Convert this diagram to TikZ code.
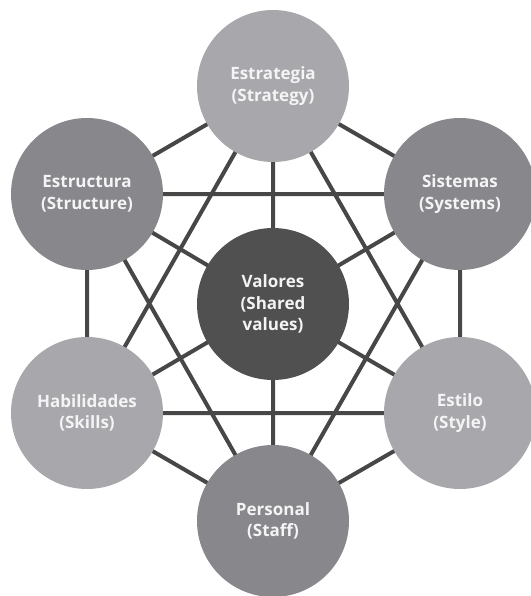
\documentclass[tikz,border=0pt]{standalone}
\usepackage{fontspec}
\setmainfont{Open Sans}
\newfontfamily\labelfont{Open Sans Bold}
\begin{document}
\begin{tikzpicture}[x=1pt,y=-1pt,
  link/.style={draw=linegray,line width=4pt},
  bubble/.style={circle,minimum size=152pt,inner sep=0pt,align=center,
    text=textgray,font=\labelfont\fontsize{17}{21.5}\selectfont},
  light/.style={bubble,fill=lightgray7s},
  mid/.style={bubble,fill=midgray7s},
  core/.style={bubble,fill=darkgray7s}]
\definecolor{linegray}{HTML}{474747}
\definecolor{lightgray7s}{HTML}{A8A7AC}
\definecolor{midgray7s}{HTML}{88878C}
\definecolor{darkgray7s}{HTML}{505050}
\definecolor{textgray}{HTML}{F4F4F4}
\useasboundingbox (0,0) rectangle (530,596);
% node positions
\coordinate (pE) at (273,86);
\coordinate (pU) at (87,194);
\coordinate (pS) at (460,194);
\coordinate (pV) at (273,304);
\coordinate (pH) at (87,413);
\coordinate (pT) at (460,413);
\coordinate (pP) at (273,521);
% connectors behind the circles
\draw[link] (pE) -- (pU) (pE) -- (pS) (pU) -- (pH) (pS) -- (pT) (pH) -- (pP) (pT) -- (pP);
\draw[link] (pU) -- (pS) (pH) -- (pT) (pE) -- (pH) (pE) -- (pT) (pU) -- (pP) (pS) -- (pP);
\draw[link] (pV) -- (pE) (pV) -- (pU) (pV) -- (pS) (pV) -- (pH) (pV) -- (pT) (pV) -- (pP);
% circles
\node[light] (estrategia) at (pE) {Estrategia\\(Strategy)};
\node[mid] (estructura) at (pU) {Estructura\\(Structure)};
\node[mid] (sistemas) at (pS) {Sistemas\\(Systems)};
\node[core] (valores) at (pV) {Valores\\(Shared\\values)};
\node[light] (habilidades) at (pH) {Habilidades\\(Skills)};
\node[light] (estilo) at (pT) {Estilo\\(Style)};
\node[mid] (personal) at (pP) {Personal\\(Staff)};
\end{tikzpicture}
\end{document}
